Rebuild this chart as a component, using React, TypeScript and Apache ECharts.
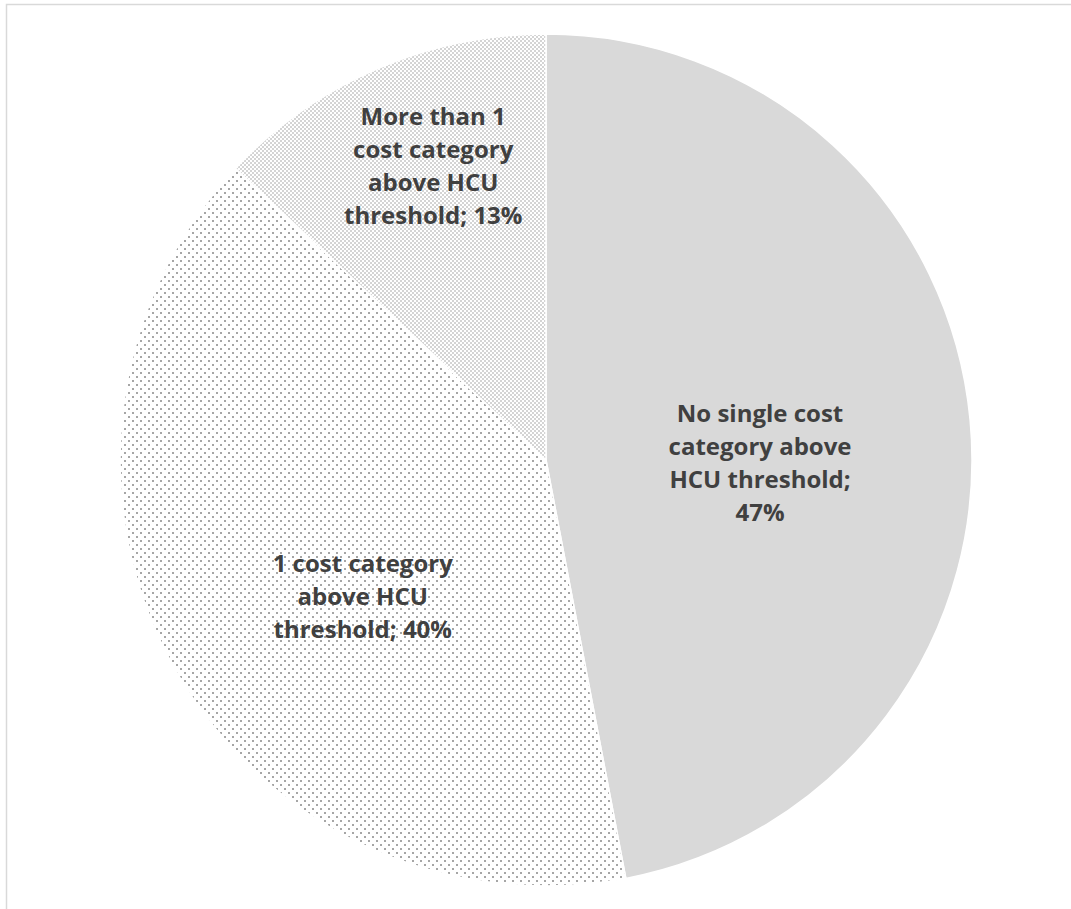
import React, { useEffect, useRef } from "react";
import * as echarts from "echarts";

// ---- data ----
const categories = [
  "No single cost category above HCU threshold",
  "1 cost category above HCU threshold",
  "More than 1 cost category above HCU threshold",
];
const shares = [47, 40, 13];
const labelTemplates = [
  "No single cost\ncategory above\nHCU threshold;\n{d}%",
  "1 cost category\nabove HCU\nthreshold; {d}%",
  "More than 1\ncost category\nabove HCU\nthreshold; {d}%",
];

// ---- layout / style ----
const LABEL_SHIFT: [number, number][] = [
  [-1, 22],
  [6, 31],
  [-27, -97],
];

function makePattern(size: number, dots: [number, number][], dotSize: number, color: string) {
  const c = document.createElement("canvas");
  c.width = size;
  c.height = size;
  const ctx = c.getContext("2d")!;
  ctx.fillStyle = "#ffffff";
  ctx.fillRect(0, 0, size, size);
  ctx.fillStyle = color;
  dots.forEach(([x, y]) => ctx.fillRect(x, y, dotSize, dotSize));
  return { image: c.toDataURL(), repeat: "repeat", imageWidth: size, imageHeight: size };
}

export default function App() {
  const ref = useRef<HTMLDivElement>(null);
  useEffect(() => {
    document.body.style.margin = "0";
    const chart = echarts.init(ref.current!, undefined, { renderer: "svg" });
    const fills: any[] = [
      "#d9d9d9",
      makePattern(8, [[0, 0], [4, 4]], 2, "#a6a6a6"),
      makePattern(4, [[0, 0], [2, 2]], 2, "#d4d4d4"),
    ];
    chart.setOption({
      animation: false,
      backgroundColor: "#ffffff",
      graphic: [
        {
          type: "rect",
          shape: { x: 6.5, y: 4.5, width: 1200, height: 1100 },
          style: { fill: "none", stroke: "#d9d9d9", lineWidth: 1.5 },
          silent: true,
        },
      ],
      series: [
        {
          type: "pie",
          center: [546, 460],
          radius: 426,
          startAngle: 90,
          clockwise: true,
          avoidLabelOverlap: false,
          itemStyle: { borderColor: "#ffffff", borderWidth: 1.5 },
          label: {
            show: true,
            position: "inside",
            fontFamily: "Open Sans",
            fontWeight: "bold",
            fontSize: 24,
            lineHeight: 33,
            color: "#404040",
            align: "center",
          },
          labelLine: { show: false },
          labelLayout: (params: any) => ({
            dx: LABEL_SHIFT[params.dataIndex][0],
            dy: LABEL_SHIFT[params.dataIndex][1],
          }),
          emphasis: { disabled: true },
          data: categories.map((name, i) => ({
            name,
            value: shares[i],
            itemStyle: { color: fills[i] },
            label: { formatter: labelTemplates[i] },
          })),
        },
      ],
    });
    return () => chart.dispose();
  }, []);
  return <div ref={ref} style={{ width: 1071, height: 909 }} />;
}
